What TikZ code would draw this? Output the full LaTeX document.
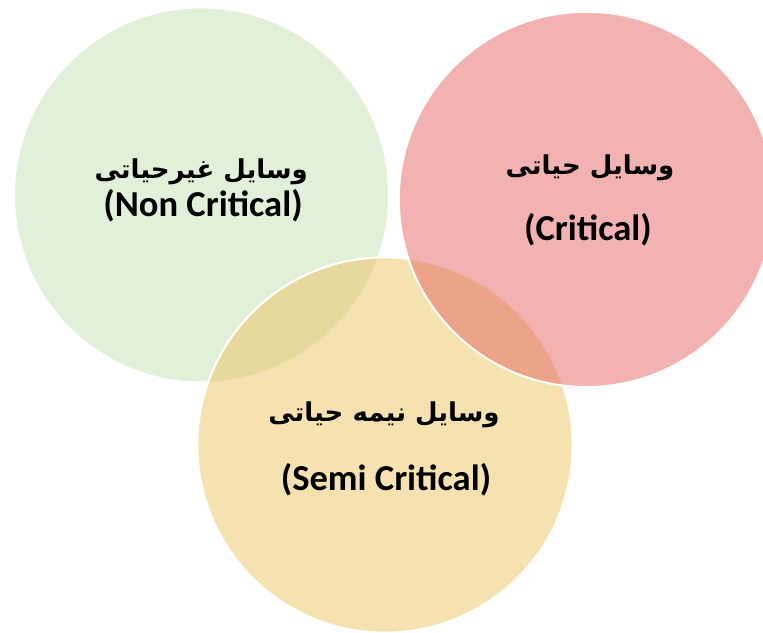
\documentclass[tikz,border=0pt]{standalone}
\usepackage{fontspec}
\usepackage{color}
\usetikzlibrary{positioning,shapes}
\TeXXeTstate=1
\newfontfamily\arabicfont[Script=Arabic]{DejaVu Sans}
\newfontfamily\latinfont{Carlito}
\definecolor{nonGreen}{RGB}{197,223,179}
\definecolor{critRed}{RGB}{229,101,101}
\definecolor{semiYellow}{RGB}{237,195,99}
\tikzset{venn/.style={circle,draw=white,line width=1.4pt,fill opacity=0.5,
		minimum size=9.38cm,inner sep=0pt},
		vennNon/.style={venn,fill=nonGreen},
		vennCrit/.style={venn,fill=critRed},
		vennSemi/.style={venn,fill=semiYellow},
		faLabel/.style={anchor=base,text=black,
		                font=\arabicfont\bfseries\fontsize{18.5}{22}\selectfont},
		enLabel/.style={anchor=base,text=black,
		                font=\latinfont\bfseries\fontsize{26}{30}\selectfont},
		every node/.style={align=center}}
\begin{document}
\begin{tikzpicture}[scale=1.0]
		\useasboundingbox (0,0) rectangle (19.075,15.825);
		%circles, drawn back to front
       		\node at (5.04,10.95) [vennNon] (1){};
       		\node at (9.625,4.7) [vennSemi] (2){};
       		\node at (14.66,10.84) [vennCrit] (3){};
		%labels
       		\node at (5.03,11.35) [faLabel] (1a){\beginR وسایل غیرحیاتی\endR};
       		\node at (5.075,10.4) [enLabel] (1b){(Non Critical)};
       		\node at (14.75,11.45) [faLabel] (3a){\beginR وسایل حیاتی\endR};
       		\node at (14.7,9.8) [enLabel] (3b){(Critical)};
       		\node at (9.6,5.275) [faLabel] (2a){\beginR وسایل نیمه حیاتی\endR};
       		\node at (9.65,3.55) [enLabel] (2b){(Semi Critical)};
       	\end{tikzpicture}
\end{document}
